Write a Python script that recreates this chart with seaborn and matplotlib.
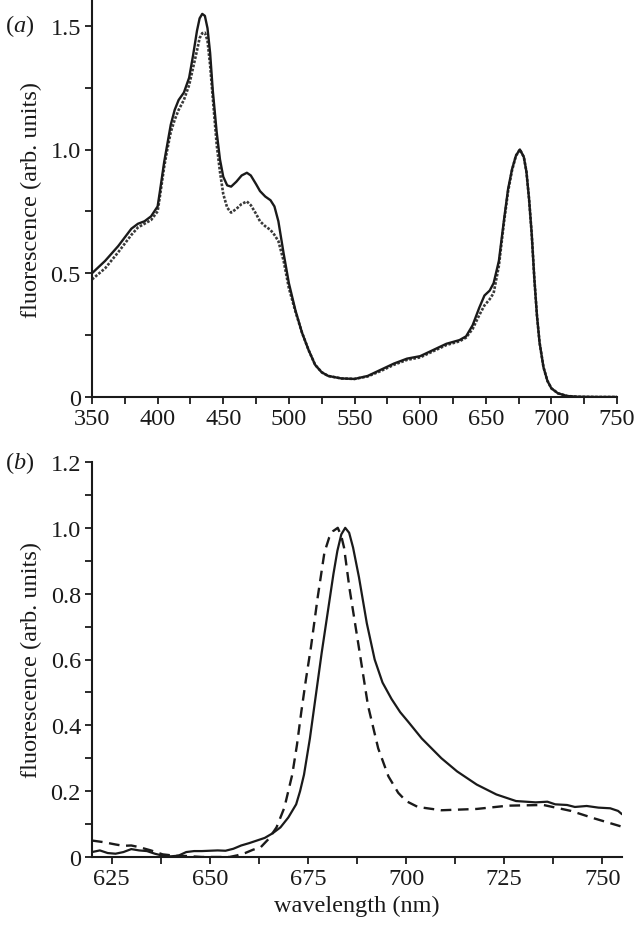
import matplotlib
matplotlib.use("Agg")
import seaborn as sns
from matplotlib import pyplot as plt
from matplotlib.ticker import MultipleLocator, FuncFormatter

# (a) excitation spectra
wl_a = [350, 360, 370, 380, 385, 390, 395, 400, 402, 405, 407, 410, 413, 416, 420,
        424, 427, 430, 432, 434, 436, 438, 440, 442, 445, 447.5, 450, 453, 456, 460,
        464, 468, 471, 475, 478, 482, 486, 489, 492, 496, 500, 505, 510, 515, 520,
        525, 530, 540, 550, 560, 570, 580, 590, 600, 610, 620, 630, 635, 640, 645,
        649, 653, 656, 660, 664, 667, 670, 673, 676, 679, 681, 683, 685, 687, 689,
        691, 694, 697, 700, 705, 712, 720, 735, 750]
fluo_a_solid = [0.50, 0.55, 0.61, 0.68, 0.70, 0.71, 0.73, 0.77, 0.84, 0.95, 1.01, 1.10,
                1.16, 1.20, 1.23, 1.29, 1.38, 1.48, 1.53, 1.548, 1.54, 1.49, 1.39, 1.24,
                1.07, 0.96, 0.89, 0.855, 0.85, 0.87, 0.895, 0.906, 0.895, 0.86, 0.832,
                0.81, 0.795, 0.77, 0.71, 0.58, 0.46, 0.35, 0.26, 0.19, 0.13, 0.10, 0.085,
                0.075, 0.073, 0.085, 0.11, 0.135, 0.155, 0.165, 0.19, 0.215, 0.23, 0.245,
                0.29, 0.36, 0.41, 0.43, 0.46, 0.55, 0.72, 0.84, 0.92, 0.975, 1.00, 0.97,
                0.91, 0.80, 0.66, 0.48, 0.33, 0.22, 0.12, 0.065, 0.035, 0.015, 0.004,
                0.001, 0.0, 0.0]
fluo_a_dotted = [0.475, 0.52, 0.585, 0.655, 0.685, 0.70, 0.715, 0.75, 0.82, 0.93, 0.99,
                 1.07, 1.12, 1.16, 1.20, 1.26, 1.33, 1.40, 1.45, 1.47, 1.472, 1.44, 1.34,
                 1.21, 1.02, 0.91, 0.82, 0.765, 0.745, 0.76, 0.78, 0.79, 0.775, 0.74, 0.71,
                 0.69, 0.675, 0.655, 0.63, 0.55, 0.44, 0.345, 0.26, 0.19, 0.13, 0.10,
                 0.085, 0.075, 0.073, 0.083, 0.105, 0.13, 0.15, 0.16, 0.185, 0.21, 0.225,
                 0.24, 0.275, 0.33, 0.37, 0.395, 0.42, 0.53, 0.71, 0.83, 0.915, 0.975,
                 1.00, 0.97, 0.91, 0.80, 0.66, 0.48, 0.33, 0.22, 0.12, 0.065, 0.035,
                 0.015, 0.004, 0.001, 0.0, 0.0]

# (b) emission spectra
wl_b_solid = [620, 622, 624, 626, 628, 630, 632, 634, 636, 638, 640, 642, 644, 646, 648,
              650, 652, 654, 656, 658, 660, 662, 664, 666, 668, 670, 672, 673, 674,
              675.5, 677, 678.5, 680, 681.5, 682.5, 683.5, 684.5, 685.5, 686.5, 688,
              690, 692, 694, 696.3, 698.5, 700.6, 704, 709, 713, 718, 723, 728, 733,
              736, 738, 741, 743, 746, 749, 752, 754, 755]
fluo_b_solid = [0.015, 0.02, 0.012, 0.01, 0.015, 0.024, 0.02, 0.018, 0.01, 0.004, 0.002,
                0.004, 0.015, 0.018, 0.018, 0.019, 0.02, 0.019, 0.025, 0.035, 0.042, 0.05,
                0.058, 0.072, 0.09, 0.12, 0.16, 0.20, 0.25, 0.36, 0.49, 0.62, 0.74, 0.86,
                0.93, 0.98, 1.0, 0.985, 0.94, 0.85, 0.71, 0.60, 0.53, 0.48, 0.44, 0.41,
                0.36, 0.30, 0.26, 0.22, 0.19, 0.17, 0.166, 0.168, 0.16, 0.158, 0.152,
                0.155, 0.15, 0.148, 0.14, 0.13]
wl_b_dashed = [620, 623, 626, 628, 630, 632, 635, 638, 641, 644, 648, 652, 655, 657, 659,
               661, 663, 665, 667, 669, 671, 672.2, 673.3, 674.5, 675.8, 677.5, 679.2,
               680.4, 681.4, 682.6, 683.5, 684.2, 685.6, 687.8, 690.3, 692.9, 695.5,
               698, 700, 703, 709, 718, 726, 735, 742, 748, 755]
fluo_b_dashed = [0.05, 0.045, 0.038, 0.034, 0.035, 0.03, 0.02, 0.008, 0.004, 0.003, 0.0,
                 0.0, 0.0, 0.005, 0.012, 0.022, 0.03, 0.055, 0.09, 0.15, 0.25, 0.34,
                 0.44, 0.54, 0.64, 0.79, 0.925, 0.97, 0.99, 1.0, 0.975, 0.94, 0.815,
                 0.65, 0.46, 0.33, 0.245, 0.195, 0.17, 0.152, 0.142, 0.146, 0.156, 0.158,
                 0.14, 0.117, 0.092]

sns.set_style("ticks")
plt.rcParams["font.family"] = ["Liberation Serif", "DejaVu Serif"]
plt.rcParams["mathtext.fontset"] = "custom"
plt.rcParams["mathtext.rm"] = "Liberation Serif"
plt.rcParams["mathtext.it"] = "Liberation Serif:italic"

FS = 17.5
INK = "#1a1a1a"

fig = plt.figure(figsize=(6.34, 9.28), dpi=100)
ax1 = fig.add_axes([92 / 634, 1 - 398 / 928, (617 - 92) / 634, (398 - 2) / 928])
ax2 = fig.add_axes([92 / 634, 1 - 858 / 928, (622 - 92) / 634, (858 - 463) / 928])

sns.lineplot(x=wl_a, y=fluo_a_dotted, ax=ax1, color="#3a3a3a", lw=1.9,
             linestyle=(0, (1.0, 0.6)), errorbar=None)
sns.lineplot(x=wl_a, y=fluo_a_solid, ax=ax1, color=INK, lw=1.7, errorbar=None)

sns.lineplot(x=wl_b_dashed, y=fluo_b_dashed, ax=ax2, color=INK, lw=1.7,
             linestyle=(0, (4.5, 2.8)), errorbar=None)
sns.lineplot(x=wl_b_solid, y=fluo_b_solid, ax=ax2, color=INK, lw=1.6, errorbar=None)

zero_fmt = FuncFormatter(lambda v, p: "0" if abs(v) < 1e-9 else f"{v:.1f}")

ax1.set_xlim(350, 750)
ax1.set_ylim(0, 1.6)
ax1.xaxis.set_major_locator(MultipleLocator(50))
ax1.xaxis.set_minor_locator(MultipleLocator(25))
ax1.yaxis.set_major_locator(MultipleLocator(0.5))
ax1.yaxis.set_minor_locator(MultipleLocator(0.25))
ax1.yaxis.set_major_formatter(zero_fmt)

ax2.set_xlim(620, 755)
ax2.set_ylim(0, 1.2)
ax2.xaxis.set_major_locator(MultipleLocator(25))
ax2.xaxis.set_minor_locator(MultipleLocator(12.5))
ax2.yaxis.set_major_locator(MultipleLocator(0.2))
ax2.yaxis.set_minor_locator(MultipleLocator(0.1))
ax2.yaxis.set_major_formatter(zero_fmt)

for ax in (ax1, ax2):
    sns.despine(ax=ax)
    for s in ("left", "bottom"):
        ax.spines[s].set_linewidth(1.5)
        ax.spines[s].set_color(INK)
    ax.tick_params(which="both", direction="out", width=1.3, length=5, color=INK,
                   labelsize=FS, labelcolor=INK, pad=3)
    ax.set_ylabel("fluorescence (arb. units)", fontsize=FS, color=INK, labelpad=6)

ax1.set_xlabel("")
ax2.set_xlabel("wavelength (nm)", fontsize=FS, color=INK, labelpad=4)

fig.text(5 / 634, 1 - 26 / 928, r"($\mathit{a}$)", fontsize=FS, color=INK, va="center", ha="left")
fig.text(5 / 634, 1 - 463 / 928, r"($\mathit{b}$)", fontsize=FS, color=INK, va="center", ha="left")

fig.savefig("out.png", dpi=100)
